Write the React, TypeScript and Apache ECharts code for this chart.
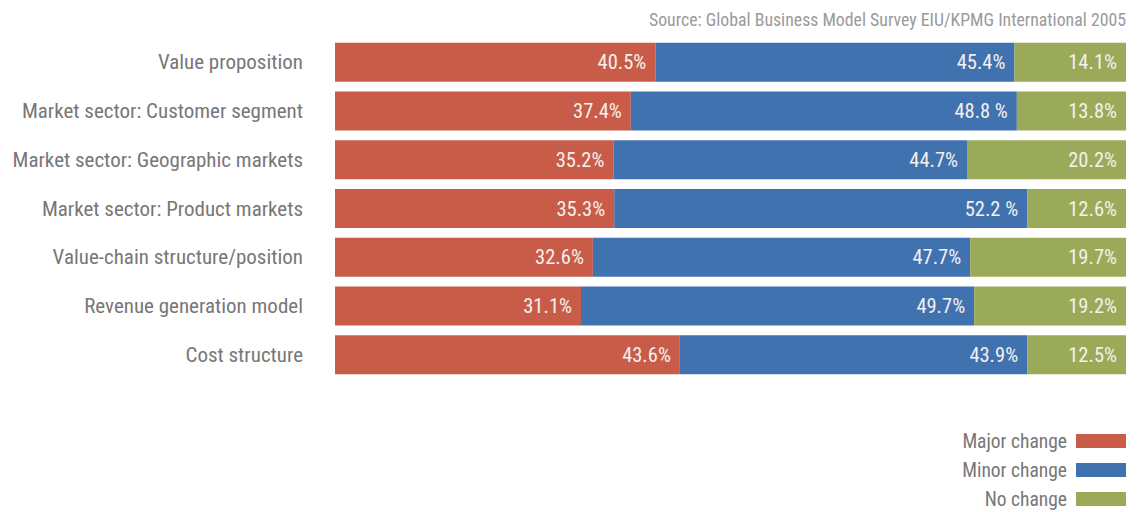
import React, { useEffect, useRef } from "react";
import * as echarts from "echarts";

const categories = [
  "Value proposition",
  "Market sector: Customer segment",
  "Market sector: Geographic markets",
  "Market sector: Product markets",
  "Value-chain structure/position",
  "Revenue generation model",
  "Cost structure",
];
const majorValues = [40.5, 37.4, 35.2, 35.3, 32.6, 31.1, 43.6];
const minorValues = [45.4, 48.8, 44.7, 52.2, 47.7, 49.7, 43.9];
const noValues = [14.1, 13.8, 20.2, 12.6, 19.7, 19.2, 12.5];
const majorLabels = ["40.5%", "37.4%", "35.2%", "35.3%", "32.6%", "31.1%", "43.6%"];
const minorLabels = ["45.4%", "48.8 %", "44.7%", "52.2 %", "47.7%", "49.7%", "43.9%"];
const noLabels = ["14.1%", "13.8%", "20.2%", "12.6%", "19.7%", "19.2%", "12.5%"];
const seriesNames = ["Major change", "Minor change", "No change"];
const sourceText = "Source: Global Business Model Survey EIU/KPMG International 2005";

const FONT = "'Roboto Condensed', 'Roboto', sans-serif";

export default function App() {
  const ref = useRef<HTMLDivElement>(null);
  useEffect(() => {
    document.body.style.margin = "0";
    if (!ref.current) return;
    const chart = echarts.init(ref.current, undefined, { renderer: "svg" });
    const mk = (name: string, values: number[], labels: string[], color: string) => ({
      name,
      type: "bar",
      stack: "total",
      barCategoryGap: "20%",
      data: values,
      itemStyle: { color },
      label: {
        show: true,
        position: "insideRight",
        distance: 9,
        color: "#f4f0ee",
        fontSize: 20.5,
        fontFamily: FONT,
        formatter: (p: any) => labels[p.dataIndex],
      },
    });
    chart.setOption({
      animation: false,
      textStyle: { fontFamily: FONT },
      title: {
        text: sourceText,
        right: 12,
        top: 10,
        padding: 0,
        textStyle: { color: "#9a9a9a", fontSize: 17.8, fontWeight: "normal", fontFamily: FONT },
      },
      legend: {
        orient: "vertical",
        right: 12,
        bottom: 3,
        padding: 0,
        align: "right",
        itemWidth: 50,
        itemHeight: 14,
        itemGap: 9,
        icon: "rect",
        textStyle: { color: "#777777", fontSize: 19.5, fontFamily: FONT, padding: [0, 4, 0, 0] },
        data: seriesNames,
      },
      grid: {
        left: 335,
        right: 12,
        top: 38,
        height: 341,
        containLabel: false,
        outerBoundsMode: "none",
      },
      xAxis: {
        type: "value",
        min: 0,
        max: 100,
        show: false,
      },
      yAxis: {
        type: "category",
        inverse: true,
        data: categories,
        axisLine: { show: false },
        axisTick: { show: false },
        axisLabel: { color: "#777777", fontSize: 21, margin: 32, fontFamily: FONT },
      },
      series: [
        mk(seriesNames[0], majorValues, majorLabels, "#C95C48"),
        mk(seriesNames[1], minorValues, minorLabels, "#4172B0"),
        mk(seriesNames[2], noValues, noLabels, "#9BAA58"),
      ],
    });
    return () => chart.dispose();
  }, []);
  return <div ref={ref} style={{ width: 1138, height: 512 }} />;
}
